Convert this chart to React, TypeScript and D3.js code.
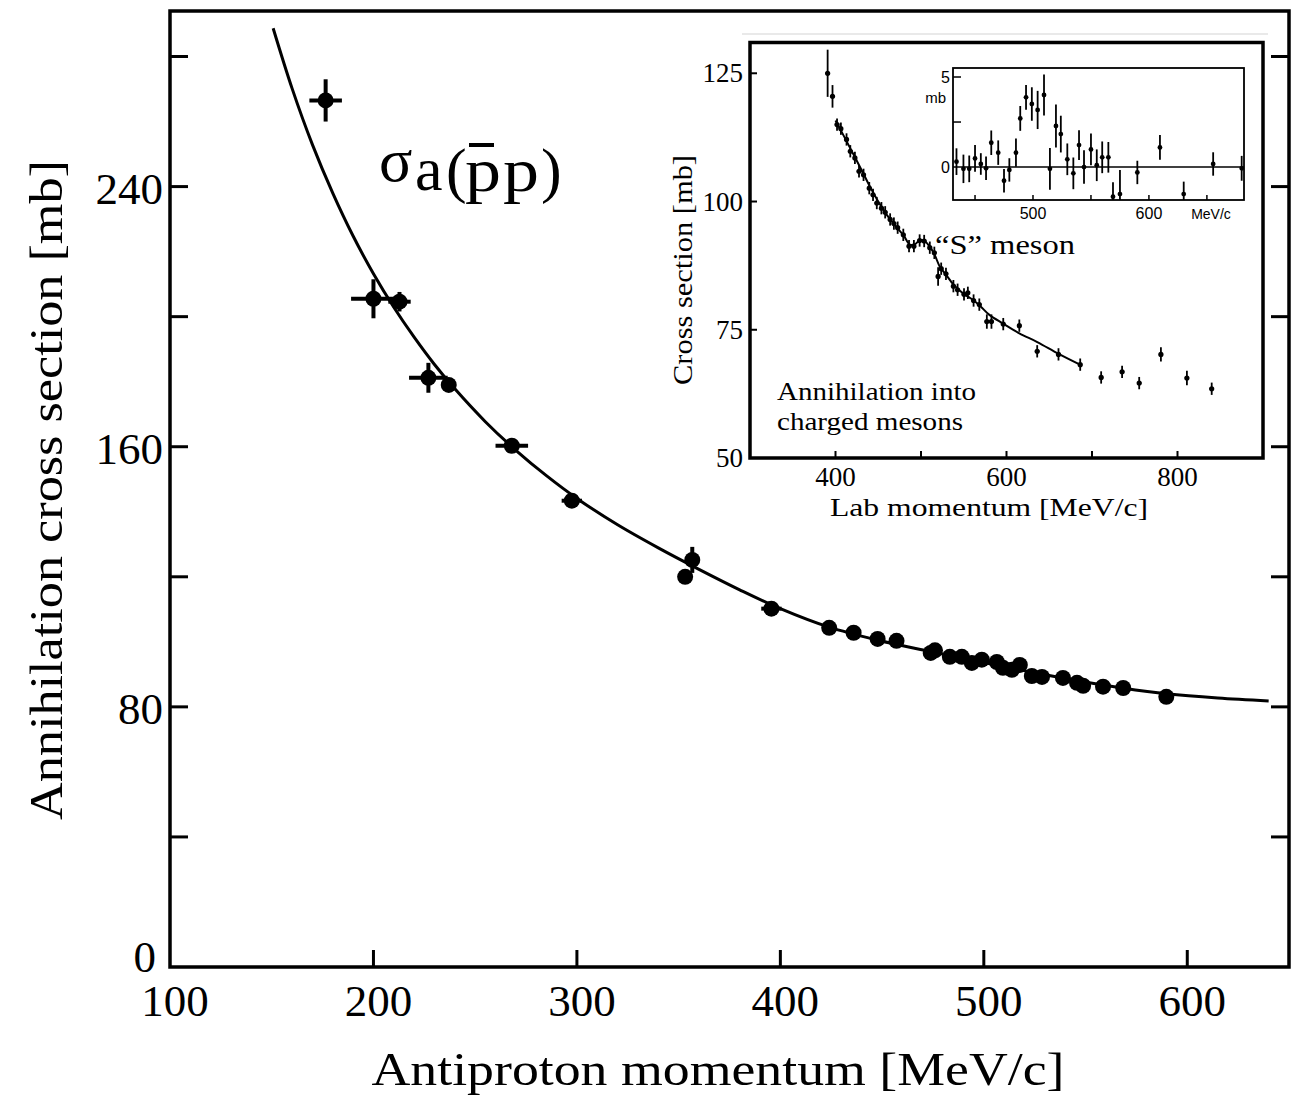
import React, { useEffect, useRef } from 'react';
import * as d3 from 'd3';

const W = 1308;
const H = 1103;

// main plot: antiproton annihilation cross section
const mainMomentum = [176.5, 200, 212.8, 227, 237, 268, 297.5, 353.2, 356.7, 395.6, 424, 436, 447.8, 457.1, 473.9, 476, 483.3, 489.2, 494.1, 499, 506.4, 509.4, 513.8, 517.7, 523.6, 528.6, 538.9, 545.8, 548.8, 558.6, 568.5, 589.7];
const mainSigma = [266.5, 205.5, 204.6, 181.2, 179, 160.3, 143.4, 120, 125.2, 110.2, 104.3, 102.8, 100.9, 100.3, 96.6, 97.4, 95.4, 95.4, 93.5, 94.5, 93.8, 92, 91.4, 92.9, 89.5, 89.2, 88.9, 87.4, 86.5, 86.2, 85.8, 83.1];
const mainMomentumErr = [8, 11, 5.5, 9.5, 0, 8, 5, 0, 0, 5, 0, 0, 0, 0, 0, 0, 0, 0, 0, 0, 0, 0, 0, 0, 0, 0, 0, 0, 0, 0, 0, 0];
const mainSigmaErr = [6.5, 6, 3, 4.6, 0, 1.5, 1, 0, 4, 2, 0, 0, 0, 0, 0, 0, 0, 0, 0, 0, 0, 0, 0, 0, 0, 0, 0, 0, 0, 0, 0, 0];

// fitted curve
const fitMomentum = [150.7, 160, 170, 180, 190, 200, 210, 220, 230, 240, 255, 270, 285, 300, 320, 340, 360, 380, 400, 424, 448, 474, 500, 524, 546, 568, 590, 615, 640];
const fitSigma = [288.7, 270.2, 252.9, 238.0, 224.8, 213.2, 202.9, 193.7, 185.3, 177.8, 167.7, 158.9, 151.1, 144.1, 136.0, 128.9, 122.3, 116.0, 110.2, 104.5, 100.5, 97.0, 93.6, 90.6, 88.0, 85.8, 84.0, 82.7, 81.8];

const xTickLabels = [100, 200, 300, 400, 500, 600];
const yTickMarks = [40, 80, 120, 160, 200, 240, 280];
const yTickLabels = [0, 80, 160, 240];

// inset: annihilation into charged mesons
const insetMomentum = [390.8, 396.5, 401.8, 406.3, 412.9, 417.3, 422.7, 427.5, 432.8, 439.5, 443.9, 448.3, 453.7, 458.1, 463.9, 468.3, 472.7, 479.3, 486, 491.7, 498.4, 503.7, 510.3, 515.6, 520, 523.6, 529.2, 537.9, 542.8, 550.3, 554.8, 561.5, 568.2, 577, 582.4, 596.2, 615, 635.9, 660.8, 686.2, 710.7, 735.2, 755.2, 780.6, 811, 840];
const insetSigma = [125, 120.5, 115, 114.2, 112.1, 109.8, 108.5, 105.9, 105.2, 102.6, 101.3, 99.7, 98.7, 97.9, 96.5, 95.7, 94.9, 93.5, 91.3, 91.3, 92.4, 92.3, 91, 90, 85.4, 86.9, 85.9, 83.5, 82.8, 81.9, 82.2, 80.7, 79.9, 76.6, 76.6, 76.1, 75.8, 70.8, 70.2, 68.2, 65.7, 66.8, 64.6, 70.2, 65.6, 63.5];
const insetSigmaErr = [4.6, 2.2, 1.2, 1.2, 1.2, 1.2, 1.2, 1.2, 1.2, 1.2, 1.2, 1.2, 1.2, 1.2, 1.2, 1.2, 1.2, 1.2, 1.2, 1.2, 1.2, 1.2, 1.2, 1.2, 1.8, 1.2, 1.2, 1.2, 1.2, 1.2, 1.2, 1.2, 1.2, 1.4, 1.4, 1.2, 1.2, 1.2, 1.2, 1.2, 1.2, 1.2, 1.2, 1.4, 1.4, 1.2];
const insetMomentumErr = 2.5;

const insetFitMomentum = [400, 410, 420, 430, 440, 450, 460, 470, 480, 487, 493, 499, 505, 511, 516, 522, 529, 538, 550, 561, 570, 580, 596, 615, 636, 661, 686];
const insetFitSigma = [115.8, 112.7, 109.5, 106.3, 103, 100, 97.4, 95.3, 93.3, 91.6, 91.7, 92.5, 92.2, 91, 89.6, 87.3, 85.8, 83.8, 82, 80.8, 79.5, 77.9, 76.2, 74.3, 72.6, 70.3, 68.2];

const insetXTicks = [400, 500, 600, 700, 800];
const insetXLabels = [400, 600, 800];
const insetYTicks = [75, 100, 125];
const insetYLabels = [50, 75, 100, 125];

// nested inset: "S" meson excess
const nestMomentum = [434, 440, 445, 450, 455, 459.5, 464, 470, 475, 479.6, 485.3, 489, 494, 499, 504, 509.5, 514.6, 519.8, 524, 529.6, 534.8, 539.7, 544, 550, 555, 559.7, 565, 569, 575, 590, 609.5, 630, 655.4, 680];
const nestSigma = [0.3, -0.1, -0.1, 0.48, 0.17, -0.07, 1.35, 0.8, -0.76, -0.16, 0.8, 2.7, 3.87, 3.5, 3.17, 4.0, -0.1, 2.28, 1.83, 0.43, -0.35, 1.22, 0, 0.98, 0.1, 0.54, 0.54, -1.65, -1.5, -0.3, 1.09, -1.5, 0.17, -0.07];
const nestErr = [0.74, 0.79, 0.74, 0.74, 0.6, 0.65, 0.68, 0.68, 0.65, 0.65, 0.79, 0.69, 0.69, 0.93, 1.06, 1.14, 1.16, 1.2, 1.02, 0.88, 0.88, 0.83, 0.93, 0.88, 0.88, 0.88, 0.85, 0.8, 1.33, 0.65, 0.69, 0.69, 0.65, 0.69];

const nestXTicks = [450, 500, 550, 600, 650];
const nestXLabels = [500, 600];
const nestYTicks = [2.5, 5];

const SERIF = "'Liberation Serif', 'Times New Roman', serif";
const SANS = "'Liberation Sans', Arial, sans-serif";

const App: React.FC = () => {
  const svgRef = useRef<SVGSVGElement>(null);

  useEffect(() => {
    if (svgRef.current == null) return;
    const svg = d3.select(svgRef.current);
    svg.selectAll('*').remove();

    svg.append('rect').attr('width', W).attr('height', H).attr('fill', '#fff');

    // ---------- main plot ----------
    const x = d3.scaleLinear().domain([100, 650]).range([170, 1289]);
    const y = d3.scaleLinear().domain([0, 294]).range([967, 11]);

    svg.append('rect')
      .attr('x', x(100)).attr('y', y(294))
      .attr('width', x(650) - x(100)).attr('height', y(0) - y(294))
      .attr('fill', 'none').attr('stroke', '#000').attr('stroke-width', 3.5);

    yTickMarks.forEach(t => {
      svg.append('line').attr('x1', x(100)).attr('x2', x(100) + 18)
        .attr('y1', y(t)).attr('y2', y(t)).attr('stroke', '#000').attr('stroke-width', 3);
      svg.append('line').attr('x1', x(650) - 18).attr('x2', x(650))
        .attr('y1', y(t)).attr('y2', y(t)).attr('stroke', '#000').attr('stroke-width', 3);
    });
    xTickLabels.filter(t => t > 100).forEach(t => {
      svg.append('line').attr('x1', x(t)).attr('x2', x(t))
        .attr('y1', y(0)).attr('y2', y(0) - 17).attr('stroke', '#000').attr('stroke-width', 3);
    });

    xTickLabels.forEach(t => {
      svg.append('text').attr('x', x(t) + 5).attr('y', y(0) + 49)
        .attr('text-anchor', 'middle').style('font-family', SERIF).style('font-size', '45px')
        .text(t);
    });
    yTickLabels.forEach(t => {
      svg.append('text').attr('x', t === 0 ? 156 : 163).attr('y', y(t) + (t === 0 ? 5 : 17))
        .attr('text-anchor', 'end').style('font-family', SERIF).style('font-size', '45px')
        .text(t);
    });

    svg.append('text').attr('x', 718).attr('y', 1085)
      .attr('text-anchor', 'middle').style('font-family', SERIF).style('font-size', '46px')
      .attr('textLength', 693).attr('lengthAdjust', 'spacingAndGlyphs')
      .text('Antiproton momentum [MeV/c]');
    svg.append('text').attr('transform', 'translate(62,490) rotate(-90)')
      .attr('text-anchor', 'middle').style('font-family', SERIF).style('font-size', '46px')
      .attr('textLength', 660).attr('lengthAdjust', 'spacingAndGlyphs')
      .text('Annihilation cross section [mb]');

    // sigma_a(p-bar p) label
    const lab = svg.append('g').style('font-family', SERIF).style('font-size', '62px');
    lab.append('text').attr('x', 379).attr('y', 181).text('σ');
    lab.append('text').attr('x', 415).attr('y', 190).text('a');
    lab.append('text').attr('x', 446).attr('y', 191).text('(');
    lab.append('text').attr('x', 465).attr('y', 191).attr('textLength', 36).attr('lengthAdjust', 'spacingAndGlyphs').text('p');
    lab.append('text').attr('x', 503).attr('y', 191).attr('textLength', 36).attr('lengthAdjust', 'spacingAndGlyphs').text('p');
    lab.append('text').attr('x', 541).attr('y', 191).text(')');
    lab.append('line').attr('x1', 469).attr('x2', 494).attr('y1', 145).attr('y2', 145)
      .attr('stroke', '#000').attr('stroke-width', 4);

    const fitLine = d3.line<[number, number]>()
      .x(d => x(d[0])).y(d => y(d[1])).curve(d3.curveCatmullRom.alpha(0.5));
    svg.append('path').datum(d3.zip(fitMomentum, fitSigma) as [number, number][])
      .attr('d', fitLine).attr('fill', 'none').attr('stroke', '#000').attr('stroke-width', 3);

    const pts = svg.append('g');
    mainMomentum.forEach((m, i) => {
      const s = mainSigma[i];
      if (mainMomentumErr[i] > 0) {
        pts.append('line').attr('x1', x(m - mainMomentumErr[i])).attr('x2', x(m + mainMomentumErr[i]))
          .attr('y1', y(s)).attr('y2', y(s)).attr('stroke', '#000').attr('stroke-width', 4);
      }
      if (mainSigmaErr[i] > 0) {
        pts.append('line').attr('x1', x(m)).attr('x2', x(m))
          .attr('y1', y(s - mainSigmaErr[i])).attr('y2', y(s + mainSigmaErr[i]))
          .attr('stroke', '#000').attr('stroke-width', 4);
      }
      pts.append('circle').attr('cx', x(m)).attr('cy', y(s)).attr('r', 8).attr('fill', '#000');
    });

    // ---------- inset ----------
    const ix = d3.scaleLinear().domain([300, 900]).range([750, 1263]);
    const iy = d3.scaleLinear().domain([50, 131]).range([458, 42.5]);
    const inset = svg.append('g');

    inset.append('line').attr('x1', 742).attr('x2', 1268).attr('y1', 34).attr('y2', 34)
      .attr('stroke', '#e2e2e2').attr('stroke-width', 1.5);
    inset.append('rect')
      .attr('x', ix(300)).attr('y', iy(131))
      .attr('width', ix(900) - ix(300)).attr('height', iy(50) - iy(131))
      .attr('fill', '#fff').attr('stroke', '#000').attr('stroke-width', 3.5);

    insetYTicks.forEach(t => {
      inset.append('line').attr('x1', ix(300)).attr('x2', ix(300) + 7)
        .attr('y1', iy(t)).attr('y2', iy(t)).attr('stroke', '#000').attr('stroke-width', 2);
    });
    insetXTicks.forEach(t => {
      inset.append('line').attr('x1', ix(t)).attr('x2', ix(t))
        .attr('y1', iy(50)).attr('y2', iy(50) - 7).attr('stroke', '#000').attr('stroke-width', 2);
    });
    insetYLabels.forEach(t => {
      inset.append('text').attr('x', 743).attr('y', iy(t) + 9)
        .attr('text-anchor', 'end').style('font-family', SERIF).style('font-size', '27px')
        .text(t);
    });
    insetXLabels.forEach(t => {
      inset.append('text').attr('x', ix(t)).attr('y', 486)
        .attr('text-anchor', 'middle').style('font-family', SERIF).style('font-size', '27px')
        .text(t);
    });
    inset.append('text').attr('x', 989).attr('y', 516)
      .attr('text-anchor', 'middle').style('font-family', SERIF).style('font-size', '26px')
      .attr('textLength', 318).attr('lengthAdjust', 'spacingAndGlyphs')
      .text('Lab momentum [MeV/c]');
    inset.append('text').attr('transform', 'translate(692,270) rotate(-90)')
      .attr('text-anchor', 'middle').style('font-family', SERIF).style('font-size', '27px')
      .attr('textLength', 230).attr('lengthAdjust', 'spacingAndGlyphs')
      .text('Cross section [mb]');
    inset.append('text').attr('x', 777).attr('y', 400)
      .style('font-family', SERIF).style('font-size', '26px')
      .attr('textLength', 199).attr('lengthAdjust', 'spacingAndGlyphs')
      .text('Annihilation into');
    inset.append('text').attr('x', 777).attr('y', 430)
      .style('font-family', SERIF).style('font-size', '26px')
      .attr('textLength', 186).attr('lengthAdjust', 'spacingAndGlyphs')
      .text('charged mesons');
    inset.append('text').attr('x', 935).attr('y', 254)
      .style('font-family', SERIF).style('font-size', '28px')
      .attr('textLength', 140).attr('lengthAdjust', 'spacingAndGlyphs')
      .text('“S” meson');

    const insetLine = d3.line<[number, number]>()
      .x(d => ix(d[0])).y(d => iy(d[1])).curve(d3.curveCatmullRom.alpha(0.5));
    inset.append('path').datum(d3.zip(insetFitMomentum, insetFitSigma) as [number, number][])
      .attr('d', insetLine).attr('fill', 'none').attr('stroke', '#000').attr('stroke-width', 2);

    insetMomentum.forEach((m, i) => {
      const s = insetSigma[i];
      inset.append('line').attr('x1', ix(m)).attr('x2', ix(m))
        .attr('y1', iy(s - insetSigmaErr[i])).attr('y2', iy(s + insetSigmaErr[i]))
        .attr('stroke', '#000').attr('stroke-width', 1.8);
      inset.append('line').attr('x1', ix(m - insetMomentumErr)).attr('x2', ix(m + insetMomentumErr))
        .attr('y1', iy(s)).attr('y2', iy(s)).attr('stroke', '#000').attr('stroke-width', 1.8);
      inset.append('circle').attr('cx', ix(m)).attr('cy', iy(s)).attr('r', 2.6).attr('fill', '#000');
    });

    // ---------- nested inset ----------
    const nx = d3.scaleLinear().domain([431, 682]).range([953, 1244]);
    const ny = d3.scaleLinear().domain([-1.83, 5.5]).range([200, 68]);
    const nest = svg.append('g');

    svg.append('defs').append('clipPath').attr('id', 'nest-clip')
      .append('rect').attr('x', nx(431)).attr('y', ny(5.5))
      .attr('width', nx(682) - nx(431)).attr('height', ny(-1.83) - ny(5.5));

    nest.append('rect').attr('x', nx(431)).attr('y', ny(5.5))
      .attr('width', nx(682) - nx(431)).attr('height', ny(-1.83) - ny(5.5))
      .attr('fill', '#fff').attr('stroke', '#000').attr('stroke-width', 1.8);

    nestYTicks.forEach(t => {
      nest.append('line').attr('x1', nx(431)).attr('x2', nx(431) + 8)
        .attr('y1', ny(t)).attr('y2', ny(t)).attr('stroke', '#000').attr('stroke-width', 1.5);
    });
    nestXTicks.forEach(t => {
      nest.append('line').attr('x1', nx(t)).attr('x2', nx(t))
        .attr('y1', ny(-1.83)).attr('y2', ny(-1.83) - 5).attr('stroke', '#000').attr('stroke-width', 1.5);
    });
    nest.append('line').attr('x1', nx(431)).attr('x2', nx(682))
      .attr('y1', ny(0)).attr('y2', ny(0)).attr('stroke', '#000').attr('stroke-width', 1.6);

    nest.append('text').attr('x', 950).attr('y', ny(5) + 6)
      .attr('text-anchor', 'end').style('font-family', SANS).style('font-size', '16px').text('5');
    nest.append('text').attr('x', 946).attr('y', ny(5) + 26)
      .attr('text-anchor', 'end').style('font-family', SANS).style('font-size', '15px').text('mb');
    nest.append('text').attr('x', 950).attr('y', ny(0) + 6)
      .attr('text-anchor', 'end').style('font-family', SANS).style('font-size', '16px').text('0');
    nestXLabels.forEach(t => {
      nest.append('text').attr('x', nx(t)).attr('y', 219)
        .attr('text-anchor', 'middle').style('font-family', SANS).style('font-size', '16px')
        .text(t);
    });
    nest.append('text').attr('x', 1211).attr('y', 219)
      .attr('text-anchor', 'middle').style('font-family', SANS).style('font-size', '14px')
      .text('MeV/c');

    const nestPts = nest.append('g').attr('clip-path', 'url(#nest-clip)');
    nestMomentum.forEach((m, i) => {
      const s = nestSigma[i];
      nestPts.append('line').attr('x1', nx(m)).attr('x2', nx(m))
        .attr('y1', ny(s - nestErr[i])).attr('y2', ny(s + nestErr[i]))
        .attr('stroke', '#000').attr('stroke-width', 1.8);
      nestPts.append('circle').attr('cx', nx(m)).attr('cy', ny(s)).attr('r', 2.4).attr('fill', '#000');
    });
  }, []);

  return (
    <svg ref={svgRef} width={W} height={H}
      style={{ position: 'absolute', left: 0, top: 0, display: 'block' }} />
  );
};

export default App;
